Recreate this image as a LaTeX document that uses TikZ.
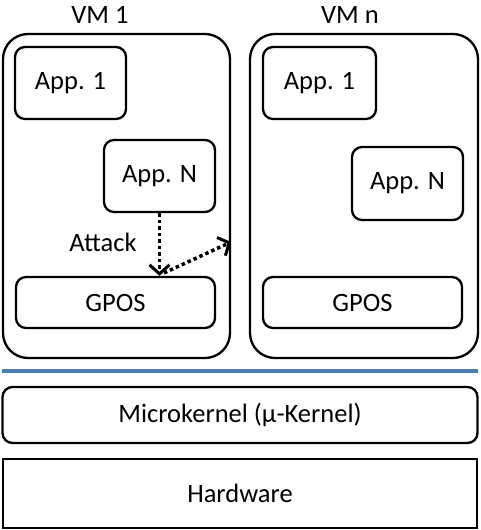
\documentclass[tikz,border=0pt]{standalone}
\usepackage{fontspec}
\setmainfont{Carlito}
\usetikzlibrary{arrows.meta}
\definecolor{lineblue}{RGB}{74,126,187}
\tikzset{
  vmbox/.style={draw, line width=2.3pt, rounded corners=25pt, inner sep=0pt},
  appbox/.style={draw, line width=2.3pt, rounded corners=10pt, inner sep=0pt, font=\fontsize{26.5}{31}\selectfont},
  layerbox/.style={draw, line width=2.3pt, inner sep=0pt, font=\fontsize{26.5}{31}\selectfont},
  lbl/.style={inner sep=0pt, font=\fontsize{26.5}{31}\selectfont},
  attackarrow/.style={line width=3.5pt, dash pattern=on 3.5pt off 3pt, -{Straight Barb[length=9pt,width=20pt,line width=3pt]}}
}
\begin{document}
\begin{tikzpicture}[x=1pt,y=-1pt]
\useasboundingbox (0,0) rectangle (480,530);
% VM containers
\node[vmbox, minimum width=227pt, minimum height=324pt] (vm1) at (116.5,196) {};
\node[vmbox, minimum width=228pt, minimum height=324pt] (vmn) at (364,196) {};
\node[lbl] (vm1lbl) at (100,15) {VM 1};
\node[lbl] (vmnlbl) at (350,15) {VM n};
% VM 1 contents
\node[appbox, minimum width=111pt, minimum height=72pt] (app1a) at (70.5,83) {App. 1};
\node[appbox, minimum width=111pt, minimum height=72pt] (appNa) at (159.5,176) {App. N};
\node[appbox, minimum width=199pt, minimum height=51pt] (gposa) at (115.5,302.5) {GPOS};
% VM n contents
\node[appbox, minimum width=113pt, minimum height=72pt] (app1b) at (319.5,83) {App. 1};
\node[appbox, minimum width=111pt, minimum height=73pt] (appNb) at (407.5,183.5) {App. N};
\node[appbox, minimum width=199pt, minimum height=51pt] (gposb) at (362.5,302.5) {GPOS};
% attack
\node[lbl] (attack) at (103,242) {Attack};
\draw[attackarrow] (appNa.south) -- (appNa.south |- gposa.north);
\coordinate (escape) at (vm1.east |- 0,242);
\coordinate (start2) at (164,273);
\draw[attackarrow] (start2) -- (escape);
% blue separator
\coordinate (sepL) at (2,371);
\coordinate (sepR) at (478,371);
\draw[lineblue, line width=4pt] (sepL) -- (sepR);
% layers
\node[appbox, minimum width=475pt, minimum height=56pt] (ukernel) at (240,415) {Microkernel (μ-Kernel)};
\node[layerbox, minimum width=474pt, minimum height=69pt] (hw) at (240,493.5) {Hardware};
\end{tikzpicture}
\end{document}
